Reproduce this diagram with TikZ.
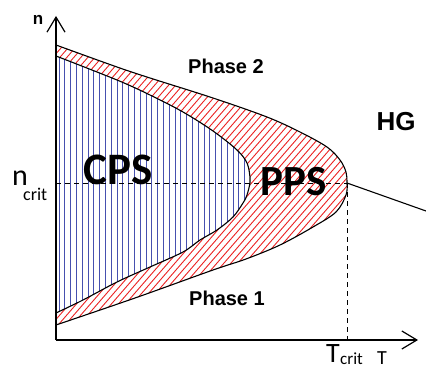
\documentclass[tikz,border=0pt]{standalone}
\usepackage{fontspec}
\setmainfont{Liberation Sans}
\newfontfamily\calib{Carlito}
\usetikzlibrary{arrows.meta}
\definecolor{hatchred}{RGB}{235,35,35}
\definecolor{hatchblue}{RGB}{70,80,175}
\tikzset{
  axisline/.style={line width=1.3pt, -{Straight Barb[length=15pt,width=18pt,line width=1.2pt]}},
  curve/.style={line width=1.1pt, black},
  critline/.style={line width=0.8pt, dash pattern=on 5pt off 4pt},
  redhatch/.style={hatchred, line width=0.9pt},
  bluehatch/.style={hatchblue, line width=0.9pt},
  lab/.style={inner sep=0pt, anchor=base},
}
\begin{document}
\begin{tikzpicture}[x=1pt,y=-1pt]
\useasboundingbox (0,0) rectangle (426,369);
\def\outerpath{plot[smooth,tension=0.55] coordinates {(56,45) (117,67) (150,78) (213,98) (267,117) (300,132) (327,147) (340,160) (346,172) (347,183) (346,195) (336,212) (313,227) (280,245) (246,259) (213,270) (135,298) (56,325)} -- cycle}
\def\innerpath{plot[smooth,tension=0.55] coordinates {(56,56) (117,80) (150,95) (183,112) (213,131) (237,150) (247,163) (250,177) (250,183) (247,195) (243,203) (233,217) (217,230) (200,240) (183,252) (150,267) (117,282) (83,300) (56,313)} -- cycle}
% red hatch
\begin{scope}
  \clip \outerpath;
  \foreach \i in {-240,-233,...,340} {
    \draw[redhatch] (\i,370) -- ++(320,-368);
  }
\end{scope}
% blue hatch
\fill[white] \innerpath;
\begin{scope}
  \clip \innerpath;
  \foreach \i in {59,64.8,...,252} {
    \draw[bluehatch] (\i,40) -- (\i,330);
  }
\end{scope}
\draw[curve] \innerpath;
\draw[curve] \outerpath;
% coordinates
\coordinate (O) at (56,340);
\coordinate (ytip) at (56,16);
\coordinate (xtip) at (418,340);
\coordinate (C) at (347,183);
\coordinate (ncrit) at (56,183);
\coordinate (Tcrit) at (347,340);
\coordinate (hgend) at (426,211);
% dashed
\draw[critline] (ncrit) -- (C);
\draw[critline] (C) -- (Tcrit);
\draw[curve] (C) -- (hgend);
% axes
\draw[axisline] (O) -- (ytip);
\draw[axisline] (O) -- (xtip);
% labels
\node[lab, font=\bfseries\fontsize{17}{17}\selectfont] (nlab) at (38,25) {n};
\node[lab, font=\bfseries\fontsize{20}{20}\selectfont] (ph2) at (226,74) {Phase 2};
\node[lab, font=\bfseries\fontsize{20}{20}\selectfont] (ph1) at (227,305) {Phase 1};
\node[lab, font=\bfseries\fontsize{26}{26}\selectfont] (hg) at (396,130) {HG};
\node[lab, font=\calib\bfseries\fontsize{45}{45}\selectfont] (cps) at (118,184) {CPS};
\node[lab, font=\calib\bfseries\fontsize{43}{43}\selectfont] (pps) at (294,195) {PPS};
\node[lab, anchor=base west, font=\calib\fontsize{30}{30}\selectfont] (nc) at (12,185) {n};
\node[lab, anchor=base west, font=\calib\fontsize{18}{18}\selectfont] (ncsub) at (23,200) {crit};
\node[lab, anchor=base west, font=\calib\fontsize{28}{28}\selectfont] (tc) at (326,362) {T};
\node[lab, anchor=base west, font=\calib\fontsize{17}{17}\selectfont] (tcsub) at (340,364) {crit};
\node[lab, anchor=base west, font=\calib\fontsize{20}{20}\selectfont] (tlab) at (377,364) {T};
\end{tikzpicture}
\end{document}
